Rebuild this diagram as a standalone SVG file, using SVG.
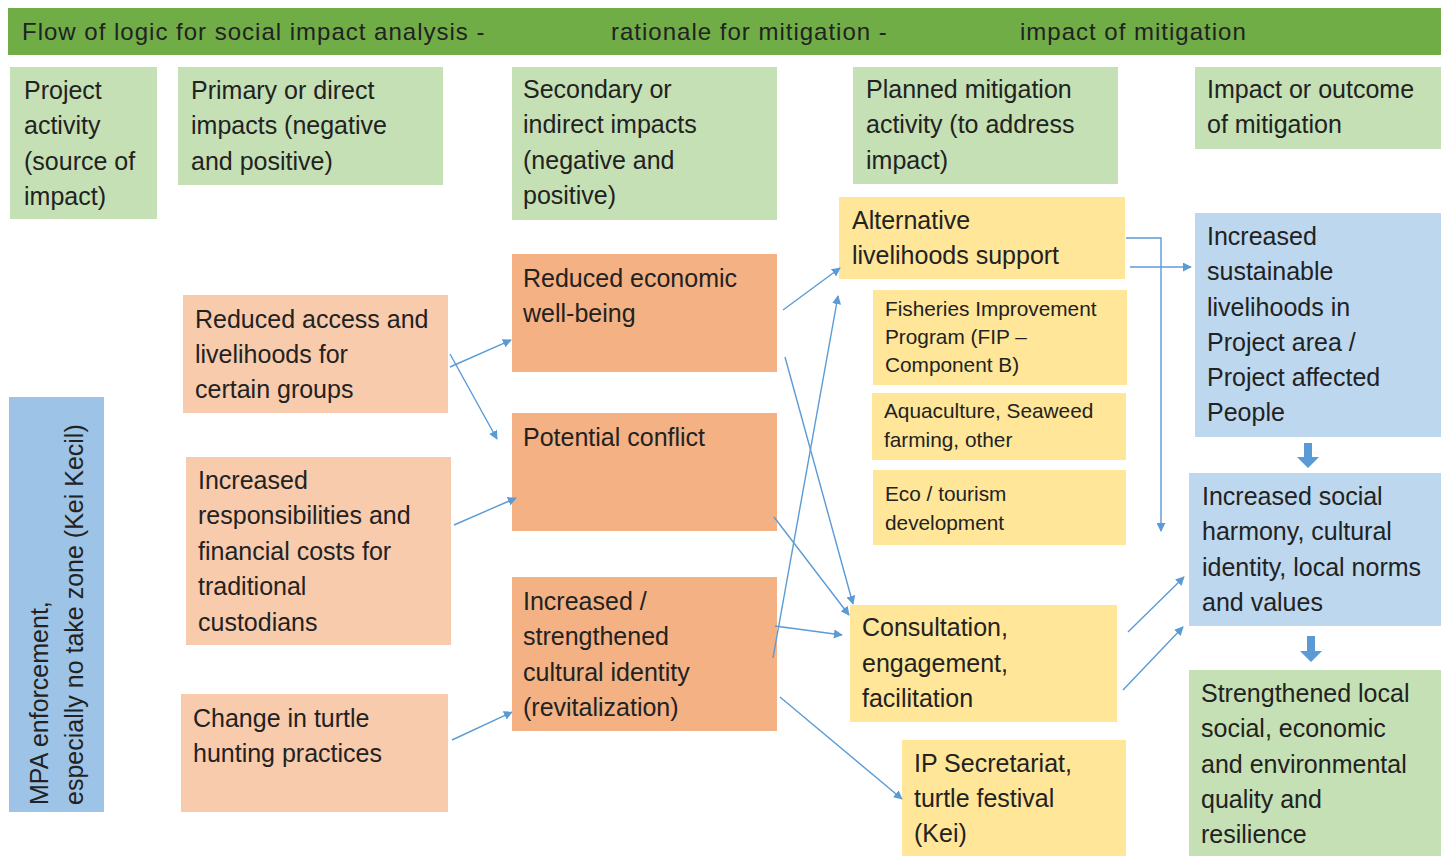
<svg xmlns="http://www.w3.org/2000/svg" width="1441" height="856" viewBox="0 0 1441 856">
<style>
text{font-family:"Liberation Sans",Arial,sans-serif;fill:#222;font-size:25px}
.hd{font-size:24px;letter-spacing:1px}
.sm{font-size:20.8px}
.lg{fill:#C5E0B4}
.pe{fill:#F8CBAD}
.or{fill:#F4B183}
.ye{fill:#FFE699}
.lb{fill:#BDD7EE}
.mb{fill:#9DC3E6}
.cn{stroke:#5B9BD5;stroke-width:1.4;fill:none}
</style>
<defs>
<marker id="ah" viewBox="0 0 10 10" refX="9" refY="5" markerWidth="9" markerHeight="9" markerUnits="userSpaceOnUse" orient="auto">
<path d="M0,0 L10,5 L0,10 z" fill="#5B9BD5"/>
</marker>
</defs>
<rect width="1441" height="856" fill="#fff"/>

<g id="title">
<rect x="8" y="8" width="1433" height="47" fill="#70AD47"/>
<text class="hd" x="22" y="40">Flow of logic for social impact analysis -</text>
<text class="hd" x="611" y="40">rationale for mitigation -</text>
<text class="hd" x="1020" y="40">impact of mitigation</text>
</g>

<g id="h-project">
<rect class="lg" x="10" y="67" width="147" height="152"/>
<text x="24" y="99">Project</text><text x="24" y="134">activity</text><text x="24" y="170">(source of</text><text x="24" y="205">impact)</text>
</g>
<g id="h-primary">
<rect class="lg" x="178" y="67" width="265" height="118"/>
<text x="191" y="99">Primary or direct</text><text x="191" y="134">impacts (negative</text><text x="191" y="170">and positive)</text>
</g>
<g id="h-secondary">
<rect class="lg" x="512" y="67" width="265" height="153"/>
<text x="523" y="98">Secondary or</text><text x="523" y="133">indirect impacts</text><text x="523" y="169">(negative and</text><text x="523" y="204">positive)</text>
</g>
<g id="h-planned">
<rect class="lg" x="853" y="67" width="265" height="117"/>
<text x="866" y="98">Planned mitigation</text><text x="866" y="133">activity (to address</text><text x="866" y="169">impact)</text>
</g>
<g id="h-outcome">
<rect class="lg" x="1195" y="67" width="246" height="82"/>
<text x="1207" y="98">Impact or outcome</text><text x="1207" y="133">of mitigation</text>
</g>

<g id="mpa">
<rect class="mb" x="9" y="397" width="95" height="415"/>
<text transform="translate(48,805) rotate(-90)">MPA enforcement,</text>
<text transform="translate(83,805) rotate(-90)">especially no take zone (Kei Kecil)</text>
</g>

<g id="reduced-access">
<rect class="pe" x="183" y="295" width="265" height="118"/>
<text x="195" y="328">Reduced access and</text><text x="195" y="363">livelihoods for</text><text x="195" y="398">certain groups</text>
</g>
<g id="responsibilities">
<rect class="pe" x="186" y="457" width="265" height="188"/>
<text x="198" y="489">Increased</text><text x="198" y="524">responsibilities and</text><text x="198" y="560">financial costs for</text><text x="198" y="595">traditional</text><text x="198" y="631">custodians</text>
</g>
<g id="turtle">
<rect class="pe" x="181" y="694" width="267" height="118"/>
<text x="193" y="727">Change in turtle</text><text x="193" y="762">hunting practices</text>
</g>

<g id="economic">
<rect class="or" x="512" y="254" width="265" height="118"/>
<text x="523" y="287">Reduced economic</text><text x="523" y="322">well-being</text>
</g>
<g id="conflict">
<rect class="or" x="512" y="413" width="265" height="118"/>
<text x="523" y="446">Potential conflict</text>
</g>
<g id="cultural">
<rect class="or" x="512" y="577" width="265" height="154"/>
<text x="523" y="610">Increased /</text><text x="523" y="645">strengthened</text><text x="523" y="681">cultural identity</text><text x="523" y="716">(revitalization)</text>
</g>

<g id="alt-livelihoods">
<rect class="ye" x="839" y="197" width="286" height="82"/>
<text x="852" y="229">Alternative</text><text x="852" y="264">livelihoods support</text>
</g>
<g id="fip">
<rect class="ye" x="873" y="290" width="254" height="95"/>
<text class="sm" x="885" y="316">Fisheries Improvement</text><text class="sm" x="885" y="344">Program (FIP –</text><text class="sm" x="885" y="372">Component B)</text>
</g>
<g id="aquaculture">
<rect class="ye" x="872" y="393" width="254" height="67"/>
<text class="sm" x="884" y="418">Aquaculture, Seaweed</text><text class="sm" x="884" y="447">farming, other</text>
</g>
<g id="eco">
<rect class="ye" x="873" y="470" width="253" height="75"/>
<text class="sm" x="885" y="501">Eco / tourism</text><text class="sm" x="885" y="530">development</text>
</g>
<g id="consultation">
<rect class="ye" x="850" y="605" width="267" height="117"/>
<text x="862" y="636">Consultation,</text><text x="862" y="672">engagement,</text><text x="862" y="707">facilitation</text>
</g>
<g id="ip-secretariat">
<rect class="ye" x="902" y="740" width="224" height="116"/>
<text x="914" y="772">IP Secretariat,</text><text x="914" y="807">turtle festival</text><text x="914" y="842">(Kei)</text>
</g>

<g id="sustainable">
<rect class="lb" x="1195" y="213" width="246" height="224"/>
<text x="1207" y="245">Increased</text><text x="1207" y="280">sustainable</text><text x="1207" y="316">livelihoods in</text><text x="1207" y="351">Project area /</text><text x="1207" y="386">Project affected</text><text x="1207" y="421">People</text>
</g>
<g id="harmony">
<rect class="lb" x="1189" y="473" width="252" height="153"/>
<text x="1202" y="505">Increased social</text><text x="1202" y="540">harmony, cultural</text><text x="1202" y="576">identity, local norms</text><text x="1202" y="611">and values</text>
</g>
<g id="strengthened">
<rect class="lg" x="1189" y="670" width="252" height="186"/>
<text x="1201" y="702">Strengthened local</text><text x="1201" y="737">social, economic</text><text x="1201" y="773">and environmental</text><text x="1201" y="808">quality and</text><text x="1201" y="843">resilience</text>
</g>

<g id="connectors">
<line class="cn" x1="450" y1="367" x2="511" y2="340" marker-end="url(#ah)"/>
<line class="cn" x1="450" y1="354" x2="497" y2="439" marker-end="url(#ah)"/>
<line class="cn" x1="454" y1="525" x2="516" y2="498" marker-end="url(#ah)"/>
<line class="cn" x1="452" y1="740" x2="512" y2="712" marker-end="url(#ah)"/>
<line class="cn" x1="783" y1="310" x2="840" y2="268" marker-end="url(#ah)"/>
<line class="cn" x1="785" y1="357" x2="853" y2="604" marker-end="url(#ah)"/>
<line class="cn" x1="774" y1="517" x2="849" y2="615" marker-end="url(#ah)"/>
<line class="cn" x1="773" y1="658" x2="838" y2="296" marker-end="url(#ah)"/>
<line class="cn" x1="775" y1="626" x2="842" y2="635" marker-end="url(#ah)"/>
<line class="cn" x1="780" y1="697" x2="902" y2="799" marker-end="url(#ah)"/>
<polyline class="cn" points="1126,238 1161,238 1161,531" marker-end="url(#ah)"/>
<line class="cn" x1="1130" y1="267" x2="1191" y2="267" marker-end="url(#ah)"/>
<line class="cn" x1="1128" y1="632" x2="1184" y2="577" marker-end="url(#ah)"/>
<line class="cn" x1="1123" y1="690" x2="1183" y2="627" marker-end="url(#ah)"/>
<path d="M1304,443 h8 v14 h7 l-11,11 l-11,-11 h7 z" fill="#5B9BD5"/>
<path d="M1307,636 h8 v15 h7 l-11,11 l-11,-11 h7 z" fill="#5B9BD5"/>
</g>
</svg>
